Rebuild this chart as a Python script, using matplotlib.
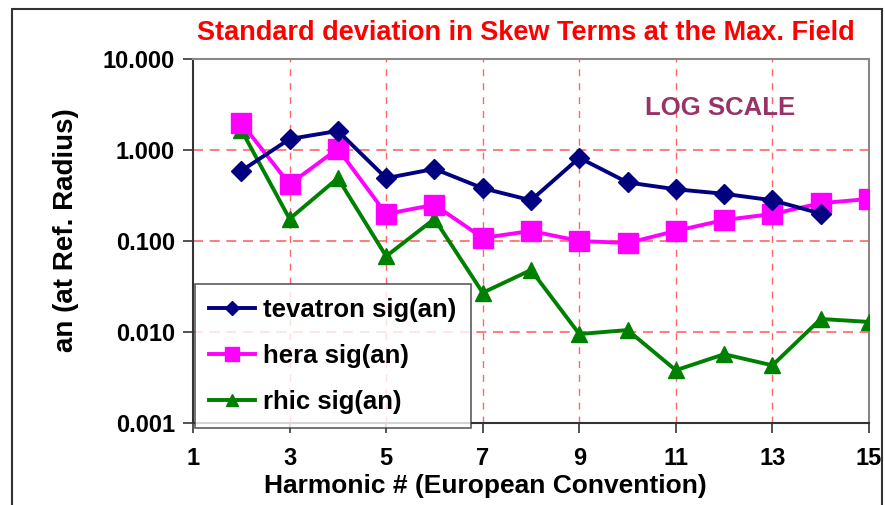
import matplotlib
matplotlib.use("Agg")
import matplotlib.pyplot as plt
from matplotlib.patches import Rectangle
from matplotlib.ticker import FixedLocator, FuncFormatter


plt.rcParams["font.family"] = ["Liberation Sans", "DejaVu Sans"]
plt.rcParams["font.weight"] = "bold"


# -----------------------------
# Data
# -----------------------------

harmonic = [2, 3, 4, 5, 6, 7, 8, 9, 10, 11, 12, 13, 14, 15]

tevatron = [0.59, 1.32, 1.62, 0.49, 0.62, 0.38, 0.28, 0.82, 0.44, 0.37, 0.33, 0.28, 0.20]
hera = [1.98, 0.42, 1.03, 0.198, 0.25, 0.108, 0.129, 0.100, 0.095, 0.129, 0.17, 0.198, 0.26, 0.29]
rhic = [1.66, 0.175, 0.49, 0.068, 0.175, 0.027, 0.048, 0.0095, 0.0105, 0.0038, 0.0057, 0.0043, 0.0139, 0.0129]

x_ticks = [1, 3, 5, 7, 9, 11, 13, 15]
y_ticks = [0.001, 0.01, 0.1, 1, 10]


# -----------------------------
# Figure
# -----------------------------

fig = plt.figure(figsize=(8.85, 5.05), dpi=100)
ax = fig.add_axes([0.2181, 0.1624, 0.7638, 0.7208])

# outer frame of the chart area
fig.patches.append(Rectangle((12 / 885, -0.02), 870 / 885, 1.02 - 9 / 505,
                             transform=fig.transFigure, fill=False,
                             edgecolor="#333333", linewidth=1.5))

ax.plot(harmonic[:len(tevatron)], tevatron, color="#000080", lw=2.8,
        marker="D", ms=10, label="tevatron sig(an)", zorder=5)
ax.plot(harmonic, hera, color="#FF00FF", lw=2.8,
        marker="s", ms=14, label="hera sig(an)", zorder=4)
ax.plot(harmonic, rhic, color="#008000", lw=2.8,
        marker="^", ms=11, label="rhic sig(an)", zorder=3)

ax.set_yscale("log")
ax.set_xlim(1, 15)
ax.set_ylim(0.001, 10)

ax.xaxis.set_major_locator(FixedLocator(x_ticks))
ax.yaxis.set_major_locator(FixedLocator(y_ticks))
ax.yaxis.set_minor_locator(FixedLocator([]))
ax.yaxis.set_major_formatter(FuncFormatter(lambda v, p: "%.3f" % v))

ax.tick_params(axis="both", labelsize=17, direction="out", length=7,
               width=1.2, color="#333333")
ax.tick_params(axis="x", pad=10)
ax.tick_params(axis="y", pad=6)

# grid lines
for gx in [3, 5, 7, 9, 11, 13]:
    ax.axvline(gx, color="#FF6666", lw=1, ls=(0, (5, 5)), zorder=1)
for gy in [1, 0.1, 0.01]:
    ax.axhline(gy, color="#FF6666", lw=1.2, ls=(0, (6, 4)), zorder=1)

for side in ["top", "right"]:
    ax.spines[side].set_color("#888888")
    ax.spines[side].set_linewidth(1.5)
for side in ["left", "bottom"]:
    ax.spines[side].set_color("#333333")
    ax.spines[side].set_linewidth(1.5)

fig.text(0.594, 0.934, "Standard deviation in Skew Terms at the Max. Field",
         color="red", fontsize=19.5, fontweight="bold", ha="center", va="center")
ax.text(0.78, 0.865, "LOG SCALE", transform=ax.transAxes, color="#993366",
        fontsize=18.5, fontweight="bold", ha="center", va="center")

fig.text(0.548, 0.038, "Harmonic # (European Convention)", fontsize=19,
         fontweight="bold", ha="center", va="center")
fig.text(0.075, 0.545, "an (at Ref. Radius)", fontsize=20, fontweight="bold",
         rotation=90, ha="center", va="center")

leg = ax.legend(loc="lower left", bbox_to_anchor=(0.003, -0.014),
                borderaxespad=0, fontsize=18.5, frameon=True, fancybox=False,
                handlelength=1.8, labelspacing=0.85, borderpad=0.55,
                handletextpad=0.3, markerscale=0.75)
leg.get_frame().set_edgecolor("#333333")
leg.get_frame().set_linewidth(1.2)
leg.set_zorder(10)

plt.savefig("out.png", dpi=100)
